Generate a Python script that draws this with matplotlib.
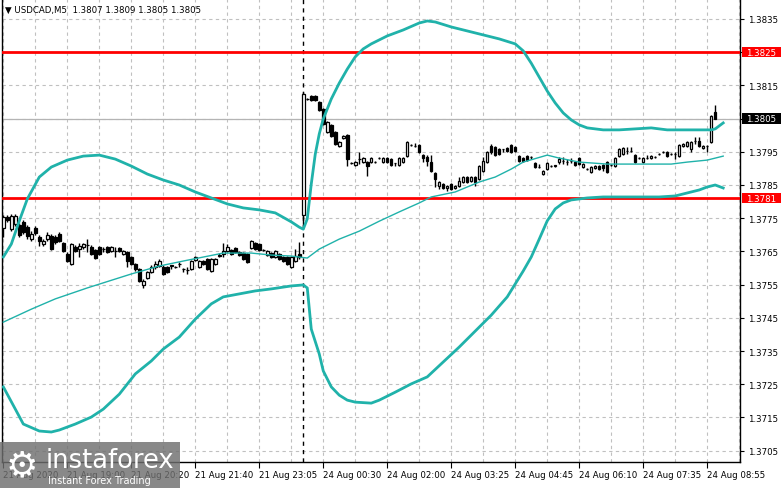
import matplotlib
matplotlib.use('Agg')
import matplotlib.pyplot as plt
import matplotlib.transforms as mtransforms
from matplotlib.patches import Rectangle
import numpy as np

# USDCAD M5 candles (bar 0 = 21 Aug 2020 ~17:40)
opens = [
    1.37720, 1.37754, 1.37717, 1.37733, 1.37729, 1.37739, 1.37723, 1.37687, 1.37720, 1.37693,
    1.37672, 1.37687, 1.37696, 1.37693, 1.37702, 1.37675, 1.37642, 1.37612, 1.37663, 1.37657,
    1.37663, 1.37669, 1.37663, 1.37654, 1.37663, 1.37657, 1.37663, 1.37651, 1.37651, 1.37660,
    1.37642, 1.37648, 1.37633, 1.37612, 1.37597, 1.37549, 1.37570, 1.37588, 1.37603, 1.37606,
    1.37603, 1.37603, 1.37606, 1.37603, 1.37612, 1.37597, 1.37594, 1.37597, 1.37624, 1.37603,
    1.37621, 1.37627, 1.37591, 1.37612, 1.37636, 1.37642, 1.37651, 1.37654, 1.37660, 1.37648,
    1.37645, 1.37642, 1.37660, 1.37675, 1.37672, 1.37654, 1.37639, 1.37645, 1.37633, 1.37642,
    1.37633, 1.37633, 1.37603, 1.37621, 1.37642, 1.37760, 1.38109, 1.38118, 1.38118, 1.38100,
    1.38079, 1.38010, 1.38031, 1.38010, 1.37967, 1.37992, 1.38001, 1.37916, 1.37910, 1.37928,
    1.37919, 1.37919, 1.37919, 1.37919, 1.37931, 1.37919, 1.37931, 1.37928, 1.37916, 1.37910,
    1.37919, 1.37937, 1.37970, 1.37967, 1.37970, 1.37940, 1.37934, 1.37919, 1.37886, 1.37847,
    1.37853, 1.37841, 1.37853, 1.37841, 1.37847, 1.37859, 1.37874, 1.37862, 1.37874, 1.37868,
    1.37892, 1.37919, 1.37967, 1.37964, 1.37958, 1.37958, 1.37961, 1.37970, 1.37964, 1.37937,
    1.37931, 1.37937, 1.37934, 1.37916, 1.37904, 1.37883, 1.37898, 1.37907, 1.37907, 1.37919,
    1.37922, 1.37919, 1.37922, 1.37919, 1.37931, 1.37904, 1.37898, 1.37889, 1.37901, 1.37907,
    1.37910, 1.37919, 1.37910, 1.37907, 1.37937, 1.37943, 1.37952, 1.37952, 1.37940, 1.37931,
    1.37919, 1.37931, 1.37931, 1.37934, 1.37943, 1.37949, 1.37949, 1.37943, 1.37943, 1.37937,
    1.37967, 1.37967, 1.37958, 1.37983, 1.37983, 1.37961, 1.37967, 1.37980, 1.38070,
]
highs = [
    1.37760, 1.37760, 1.37763, 1.37763, 1.37735, 1.37744, 1.37729, 1.37711, 1.37726, 1.37699,
    1.37687, 1.37708, 1.37702, 1.37699, 1.37708, 1.37678, 1.37648, 1.37675, 1.37669, 1.37675,
    1.37675, 1.37687, 1.37669, 1.37657, 1.37666, 1.37663, 1.37666, 1.37666, 1.37663, 1.37663,
    1.37654, 1.37651, 1.37636, 1.37615, 1.37600, 1.37567, 1.37591, 1.37609, 1.37621, 1.37627,
    1.37609, 1.37606, 1.37609, 1.37606, 1.37618, 1.37600, 1.37603, 1.37624, 1.37636, 1.37624,
    1.37624, 1.37630, 1.37630, 1.37630, 1.37645, 1.37675, 1.37672, 1.37657, 1.37663, 1.37651,
    1.37648, 1.37645, 1.37684, 1.37678, 1.37675, 1.37657, 1.37654, 1.37648, 1.37654, 1.37645,
    1.37636, 1.37636, 1.37636, 1.37657, 1.37678, 1.38130, 1.38112, 1.38121, 1.38121, 1.38103,
    1.38082, 1.38043, 1.38034, 1.38013, 1.37983, 1.38001, 1.38004, 1.37919, 1.37922, 1.37949,
    1.37934, 1.37922, 1.37934, 1.37922, 1.37934, 1.37934, 1.37934, 1.37931, 1.37916, 1.37934,
    1.37934, 1.37983, 1.37973, 1.37976, 1.37973, 1.37943, 1.37940, 1.37940, 1.37889, 1.37862,
    1.37856, 1.37850, 1.37856, 1.37850, 1.37874, 1.37877, 1.37877, 1.37877, 1.37877, 1.37910,
    1.37934, 1.37952, 1.37973, 1.37967, 1.37961, 1.37958, 1.37964, 1.37973, 1.37967, 1.37940,
    1.37934, 1.37940, 1.37937, 1.37919, 1.37913, 1.37895, 1.37919, 1.37910, 1.37910, 1.37934,
    1.37934, 1.37928, 1.37931, 1.37922, 1.37934, 1.37916, 1.37901, 1.37907, 1.37910, 1.37910,
    1.37913, 1.37922, 1.37913, 1.37934, 1.37961, 1.37964, 1.37964, 1.37964, 1.37943, 1.37934,
    1.37934, 1.37940, 1.37940, 1.37937, 1.37946, 1.37952, 1.37952, 1.37946, 1.37949, 1.37973,
    1.37976, 1.37983, 1.37983, 1.37995, 1.37995, 1.37970, 1.37970, 1.38061, 1.38090,
]
lows = [
    1.37693, 1.37739, 1.37711, 1.37726, 1.37693, 1.37702, 1.37687, 1.37681, 1.37699, 1.37666,
    1.37666, 1.37681, 1.37654, 1.37672, 1.37678, 1.37648, 1.37618, 1.37609, 1.37648, 1.37633,
    1.37657, 1.37648, 1.37639, 1.37627, 1.37639, 1.37648, 1.37645, 1.37648, 1.37633, 1.37648,
    1.37639, 1.37603, 1.37609, 1.37591, 1.37558, 1.37540, 1.37567, 1.37585, 1.37597, 1.37603,
    1.37579, 1.37585, 1.37597, 1.37600, 1.37603, 1.37588, 1.37582, 1.37594, 1.37621, 1.37600,
    1.37609, 1.37594, 1.37588, 1.37609, 1.37633, 1.37633, 1.37648, 1.37639, 1.37645, 1.37636,
    1.37624, 1.37615, 1.37657, 1.37654, 1.37651, 1.37651, 1.37636, 1.37630, 1.37630, 1.37624,
    1.37618, 1.37609, 1.37600, 1.37618, 1.37627, 1.37723, 1.38106, 1.38103, 1.38103, 1.38073,
    1.38031, 1.38007, 1.37995, 1.37970, 1.37964, 1.37989, 1.37907, 1.37913, 1.37907, 1.37913,
    1.37916, 1.37877, 1.37916, 1.37916, 1.37928, 1.37916, 1.37916, 1.37907, 1.37907, 1.37907,
    1.37916, 1.37934, 1.37967, 1.37964, 1.37946, 1.37919, 1.37907, 1.37889, 1.37844, 1.37838,
    1.37838, 1.37832, 1.37835, 1.37838, 1.37844, 1.37856, 1.37856, 1.37859, 1.37847, 1.37865,
    1.37889, 1.37916, 1.37943, 1.37937, 1.37940, 1.37949, 1.37949, 1.37946, 1.37949, 1.37919,
    1.37919, 1.37922, 1.37928, 1.37901, 1.37901, 1.37880, 1.37895, 1.37904, 1.37904, 1.37913,
    1.37913, 1.37910, 1.37916, 1.37907, 1.37910, 1.37901, 1.37895, 1.37886, 1.37898, 1.37895,
    1.37892, 1.37886, 1.37907, 1.37904, 1.37934, 1.37940, 1.37943, 1.37949, 1.37916, 1.37928,
    1.37916, 1.37928, 1.37928, 1.37931, 1.37940, 1.37946, 1.37934, 1.37940, 1.37928, 1.37934,
    1.37964, 1.37964, 1.37949, 1.37973, 1.37964, 1.37958, 1.37949, 1.37976, 1.38050,
]
closes = [
    1.37754, 1.37744, 1.37757, 1.37757, 1.37699, 1.37708, 1.37696, 1.37702, 1.37705, 1.37681,
    1.37681, 1.37699, 1.37657, 1.37678, 1.37681, 1.37651, 1.37621, 1.37672, 1.37651, 1.37666,
    1.37672, 1.37668, 1.37642, 1.37630, 1.37642, 1.37656, 1.37648, 1.37663, 1.37651, 1.37651,
    1.37651, 1.37621, 1.37612, 1.37597, 1.37561, 1.37561, 1.37588, 1.37603, 1.37612, 1.37621,
    1.37582, 1.37588, 1.37608, 1.37603, 1.37612, 1.37597, 1.37594, 1.37621, 1.37633, 1.37621,
    1.37612, 1.37597, 1.37627, 1.37627, 1.37638, 1.37651, 1.37663, 1.37642, 1.37648, 1.37639,
    1.37627, 1.37618, 1.37681, 1.37657, 1.37654, 1.37654, 1.37651, 1.37633, 1.37651, 1.37627,
    1.37621, 1.37612, 1.37633, 1.37636, 1.37633, 1.38124, 1.38109, 1.38106, 1.38106, 1.38076,
    1.38034, 1.38041, 1.37998, 1.37973, 1.37980, 1.37998, 1.37928, 1.37916, 1.37919, 1.37928,
    1.37931, 1.37907, 1.37931, 1.37919, 1.37931, 1.37931, 1.37919, 1.37910, 1.37916, 1.37931,
    1.37931, 1.37980, 1.37970, 1.37967, 1.37949, 1.37931, 1.37922, 1.37892, 1.37868, 1.37859,
    1.37841, 1.37847, 1.37838, 1.37847, 1.37862, 1.37874, 1.37859, 1.37874, 1.37859, 1.37907,
    1.37922, 1.37949, 1.37949, 1.37940, 1.37943, 1.37958, 1.37952, 1.37949, 1.37952, 1.37922,
    1.37922, 1.37925, 1.37934, 1.37904, 1.37904, 1.37892, 1.37916, 1.37907, 1.37909, 1.37928,
    1.37922, 1.37919, 1.37922, 1.37910, 1.37913, 1.37913, 1.37898, 1.37904, 1.37907, 1.37898,
    1.37901, 1.37889, 1.37910, 1.37931, 1.37958, 1.37961, 1.37952, 1.37952, 1.37919, 1.37931,
    1.37931, 1.37931, 1.37937, 1.37934, 1.37943, 1.37949, 1.37937, 1.37943, 1.37943, 1.37970,
    1.37973, 1.37980, 1.37980, 1.37983, 1.37967, 1.37967, 1.37967, 1.38058, 1.38050,
]

# Bollinger bands, sampled at bar positions
upper_idx = [0, 2, 4, 6, 9, 12, 16, 20, 24, 28, 32, 36, 40, 44, 48, 52, 56, 60, 64, 68,
             72, 74, 75, 76, 77, 78, 79, 80, 82, 84, 86, 88, 90, 92, 96, 100, 104, 106, 108, 112,
             116, 120, 124, 128, 130, 132, 134, 136, 138, 140, 142, 144, 146, 150, 154, 158, 162, 166, 170, 174,
             177, 178, 180]
upper_band = [1.37633, 1.37672, 1.37742, 1.37808, 1.37874, 1.37904, 1.37925, 1.37937, 1.37940, 1.37928,
              1.37907, 1.37883, 1.37865, 1.37850, 1.37829, 1.37811, 1.37793, 1.37781, 1.37775, 1.37766,
              1.37739, 1.37723, 1.37717, 1.37748, 1.37853, 1.37943, 1.38004, 1.38049, 1.38109, 1.38157,
              1.38199, 1.38236, 1.38260, 1.38275, 1.38299, 1.38317, 1.38338, 1.38344, 1.38341, 1.38326,
              1.38314, 1.38302, 1.38290, 1.38275, 1.38254, 1.38217, 1.38175, 1.38133, 1.38097, 1.38067,
              1.38046, 1.38031, 1.38022, 1.38016, 1.38016, 1.38019, 1.38022, 1.38016, 1.38016, 1.38016,
              1.38016, 1.38019, 1.38037]

lower_idx = [0, 3, 5, 9, 12, 14, 18, 22, 25, 29, 33, 37, 40, 44, 48, 52, 55, 59, 63, 67,
             72, 75, 76, 77, 79, 80, 82, 84, 86, 88, 92, 94, 98, 102, 106, 110, 114, 118, 122, 126,
             128, 130, 132, 134, 136, 138, 140, 142, 146, 150, 158, 164, 168, 170, 172, 174, 176, 178, 180]
lower_band = [1.37242, 1.37175, 1.37130, 1.37109, 1.37106, 1.37112, 1.37130, 1.37151, 1.37175, 1.37220,
              1.37281, 1.37320, 1.37356, 1.37392, 1.37446, 1.37492, 1.37513, 1.37522, 1.37531, 1.37537,
              1.37546, 1.37549, 1.37540, 1.37416, 1.37341, 1.37290, 1.37242, 1.37217, 1.37202, 1.37196,
              1.37193, 1.37202, 1.37226, 1.37251, 1.37272, 1.37317, 1.37362, 1.37410, 1.37458, 1.37513,
              1.37552, 1.37591, 1.37633, 1.37687, 1.37742, 1.37778, 1.37796, 1.37805, 1.37811, 1.37814,
              1.37814, 1.37814, 1.37817, 1.37823, 1.37829, 1.37835, 1.37844, 1.37850, 1.37841]

mid_idx = [0, 7, 13, 21, 32, 39, 45, 50, 55, 62, 67, 72, 74, 76, 79, 84, 89, 94, 99, 104,
           107, 113, 119, 123, 127, 130, 136, 139, 144, 151, 159, 167, 171, 176, 180]
mid_band = [1.37437, 1.37476, 1.37507, 1.37540, 1.37582, 1.37606, 1.37621, 1.37633, 1.37645, 1.37645,
            1.37639, 1.37636, 1.37633, 1.37630, 1.37657, 1.37687, 1.37711, 1.37741, 1.37769, 1.37796,
            1.37814, 1.37829, 1.37859, 1.37874, 1.37898, 1.37919, 1.37940, 1.37931, 1.37919, 1.37913,
            1.37913, 1.37913, 1.37919, 1.37925, 1.37937]

levels_red = [1.3825, 1.3781]
last_price = 1.3805
price_ticks = [1.3705, 1.3715, 1.3725, 1.3735, 1.3745, 1.3755, 1.3765, 1.3775,
               1.3785, 1.3795, 1.3805, 1.3815, 1.3825, 1.3835]
time_labels = ['21 Aug 2020', '21 Aug 19:00', '21 Aug 20:20', '21 Aug 21:40',
               '21 Aug 23:05', '24 Aug 00:30', '24 Aug 02:00', '24 Aug 03:25',
               '24 Aug 04:45', '24 Aug 06:10', '24 Aug 07:35', '24 Aug 08:55']
time_label_bars = [0, 16, 32, 48, 64, 80, 96, 112, 128, 144, 160, 176]
week_open_bar = 75
title = '\u25bc USDCAD,M5  1.3807 1.3809 1.3805 1.3805'

plt.rcParams['font.family'] = ['DejaVu Sans']
teal = '#20b2aa'
gridc = '#c0c0c0'

W, H = 781, 489
fig = plt.figure(figsize=(W / 100, H / 100), dpi=100)
fig.patch.set_facecolor('white')
ax = fig.add_axes([2 / W, 26 / H, 738 / W, 463 / H])
ax.set_facecolor('white')

ax.set_xlim(-0.33, 184.2)
ax.set_ylim(1.370157, 1.384102)

# grid
for p in price_ticks:
    ax.axhline(p, color=gridc, lw=0.8, ls=(0, (3, 3)), zorder=0)
for b in range(0, 185, 8):
    ax.axvline(b, color=gridc, lw=0.8, ls=(0, (3, 3)), zorder=0)

ax.axhline(last_price, color='#b4b4b4', lw=0.9, zorder=1)
ax.axvline(week_open_bar, color='black', lw=1, ls=(0, (3, 3)), zorder=1)

# candles
o = np.array(opens)
h = np.array(highs)
l = np.array(lows)
c = np.array(closes)
x = np.arange(len(c))
up = c >= o
ax.vlines(x, l, h, color='black', lw=1, zorder=2)
ax.bar(x[up], (c - o)[up], bottom=o[up], width=0.62, color='white',
       edgecolor='black', linewidth=0.9, zorder=3)
ax.bar(x[~up], (c - o)[~up], bottom=o[~up], width=0.62, color='black',
       edgecolor='black', linewidth=0.9, zorder=3)

# red levels
for lv in levels_red:
    ax.axhline(lv, color='red', lw=2, zorder=4)

# bands
ax.plot(upper_idx, upper_band, color=teal, lw=2, zorder=5, solid_joinstyle='round')
ax.plot(lower_idx, lower_band, color=teal, lw=2, zorder=5, solid_joinstyle='round')
ax.plot(mid_idx, mid_band, color=teal, lw=1, zorder=5)

# axes styling
ax.spines['top'].set_visible(False)
for s in ['left', 'right', 'bottom']:
    ax.spines[s].set_linewidth(1)
boxed = [levels_red[0], last_price]
ax.yaxis.tick_right()
ax.set_yticks(price_ticks)
ax.set_yticklabels(['' if any(abs(p - b) < 1e-6 for b in boxed) else '%.4f' % p
                    for p in price_ticks])
ax.tick_params(axis='y', direction='out', length=3, pad=3, labelsize=6.2, width=0.8)
ax.set_xticks(time_label_bars)
ax.set_xticklabels(time_labels, ha='left')
ax.tick_params(axis='x', direction='out', length=4, pad=2, labelsize=6.2, width=0.8)

# price boxes on the right scale
trans = mtransforms.blended_transform_factory(fig.transFigure, ax.transData)
box_h = 0.00031
for lv, bg in [(levels_red[0], 'red'), (levels_red[1], 'red'), (last_price, 'black')]:
    fig.add_artist(Rectangle((742 / W, lv - box_h / 2), 39 / W, box_h, transform=trans,
                             facecolor=bg, edgecolor='none', zorder=10))
    fig.text(746 / W, lv, '%.4f' % lv, transform=trans, color='white', fontsize=6.2,
             va='center', ha='left', zorder=11)

# chart caption
fig.text(5 / W, 1 - 10 / H, title, fontsize=6.2, va='center', ha='left')

# watermark
fig.add_artist(Rectangle((0, 0), 180 / W, 46 / H, transform=fig.transFigure,
                         facecolor='#6f6f6f', edgecolor='none', alpha=0.82, zorder=20))
fig.text(22 / W, 23 / H, '\u2699', fontsize=26, color='white', ha='center', va='center', zorder=21)
fig.text(46 / W, 28 / H, 'instaforex', fontsize=18.5, color='white', ha='left', va='center',
         zorder=21)
fig.text(48 / W, 8 / H, 'Instant Forex Trading', fontsize=7, color='white', ha='left',
         va='center', zorder=21)

fig.savefig('out.png', dpi=100)
